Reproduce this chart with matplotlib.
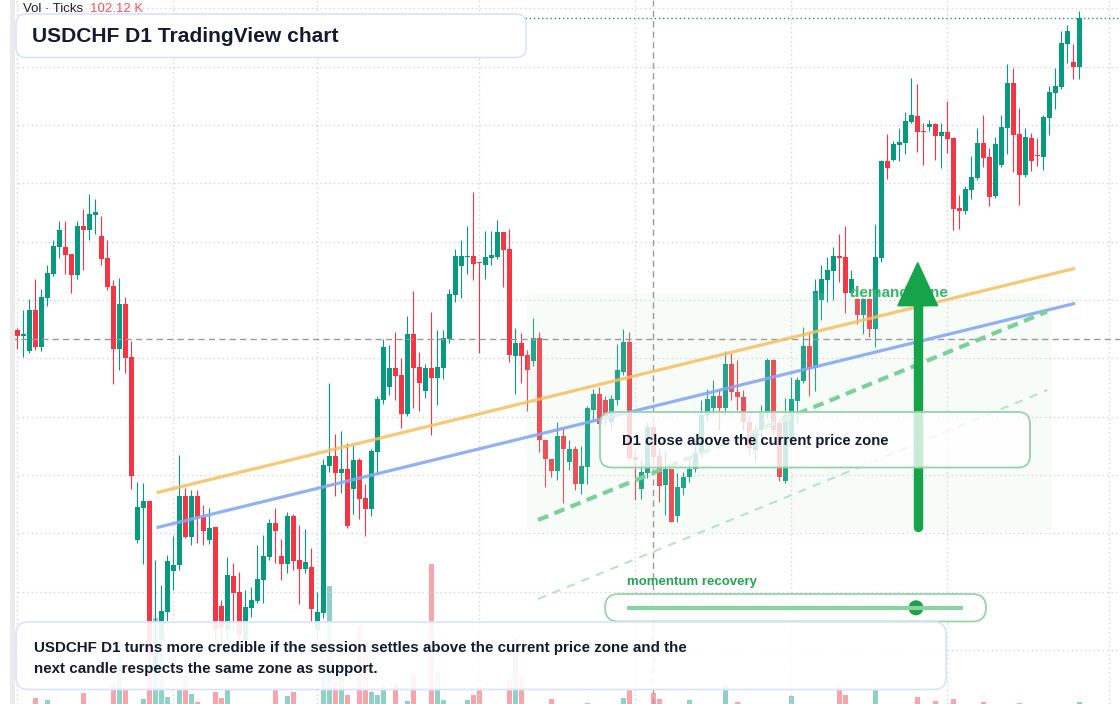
import numpy as np
import matplotlib.pyplot as plt
from matplotlib.patches import FancyBboxPatch, Polygon, Circle, Rectangle

plt.rcParams['font.family'] = ['Liberation Sans', 'DejaVu Sans']

# OHLC in points (1 point = 0.00001)
open_pts = [88020, 87984, 87894, 88140, 87918, 88212, 88356, 88518, 88518, 88476,
            88350, 88644, 88620, 88710, 88584, 88452, 88284, 87906, 88176, 87858,
            86760, 86952, 86994, 85980, 86160, 86328, 86574, 86610, 87024, 86778,
            87024, 86898, 86760, 86838, 86364, 86220, 86544, 86448, 86160, 86352,
            86394, 86520, 86658, 86862, 86664, 86616, 86904, 86640, 86586, 86598,
            86220, 86322, 87204, 87264, 87162, 87186, 87066, 87240, 87012, 86946,
            87288, 87600, 87678, 87792, 87750, 87516, 87996, 87798, 87654, 87792,
            87732, 87792, 87966, 88230, 88404, 88458, 88464, 88428, 88410, 88452,
            88458, 88608, 88506, 87864, 87942, 87870, 87834, 87972, 87360, 87246,
            87174, 87384, 87228, 87306, 87096, 87198, 87540, 87636, 87600, 87468,
            87600, 87768, 87948, 87258, 87066, 87162, 87438, 87264, 87090, 87186,
            86904, 87072, 87138, 87186, 87282, 87510, 87552, 87624, 87552, 87816,
            87648, 87618, 87468, 87300, 87420, 87522, 87840, 87462, 87114, 87360,
            87594, 87714, 87924, 87792, 88200, 88320, 88374, 88464, 88458, 88242,
            88206, 88110, 88206, 88026, 88452, 89034, 89040, 89130, 89142, 89268,
            89304, 89214, 89238, 89256, 89184, 89208, 89172, 88752, 88734, 88860,
            88932, 89142, 89058, 88824, 89010, 89232, 89502, 89196, 88950, 89172,
            89070, 89058, 89292, 89442, 89478, 89736, 89628, 89598]
high_pts = [88032, 88140, 88206, 88326, 88266, 88410, 88560, 88674, 88674, 88476,
            88674, 88746, 88836, 88806, 88704, 88560, 88320, 88332, 88218, 87954,
            87108, 87102, 86994, 86640, 86490, 86670, 86784, 87270, 87072, 87060,
            87060, 86970, 86952, 86838, 86400, 86658, 86622, 86568, 86460, 86478,
            86730, 86790, 86886, 86952, 86766, 86928, 86916, 86850, 86826, 86712,
            86448, 87246, 87702, 87396, 87414, 87342, 87330, 87252, 87096, 87306,
            87624, 87966, 87930, 88008, 87852, 88104, 88254, 87888, 87816, 88128,
            88020, 88020, 88266, 88506, 88560, 88644, 88848, 88428, 88614, 88614,
            88680, 88608, 88626, 88032, 88002, 87900, 88092, 88008, 87360, 87246,
            87468, 87432, 87360, 87324, 87324, 87564, 87666, 87678, 87624, 87630,
            87936, 88026, 88008, 87300, 87240, 87468, 87480, 87312, 87300, 87186,
            87162, 87168, 87240, 87360, 87600, 87666, 87720, 87666, 87894, 87882,
            87840, 87660, 87510, 87450, 87570, 87852, 87846, 87480, 87612, 87738,
            87738, 88038, 88008, 88326, 88410, 88458, 88518, 88596, 88644, 88380,
            88212, 88212, 88212, 88656, 89040, 89196, 89154, 89232, 89328, 89532,
            89496, 89262, 89280, 89262, 89262, 89394, 89178, 88830, 88884, 89064,
            89232, 89310, 89112, 89178, 89310, 89616, 89592, 89352, 89232, 89202,
            89172, 89310, 89484, 89592, 89814, 89850, 89736, 89934]
low_pts = [87906, 87858, 87882, 87900, 87894, 88164, 88344, 88452, 88356, 88242,
           88326, 88380, 88560, 88596, 88410, 88260, 87696, 87780, 87762, 87066,
           86742, 86616, 85980, 85920, 86112, 86250, 86460, 86580, 86772, 86730,
           86742, 86730, 86736, 86160, 86130, 86160, 86220, 86100, 86112, 86298,
           86382, 86382, 86640, 86622, 86520, 86562, 86580, 86376, 86562, 86268,
           86160, 86292, 87168, 87024, 87042, 86832, 86916, 86886, 86784, 86904,
           87156, 87576, 87630, 87600, 87432, 87504, 87552, 87534, 87612, 87390,
           87570, 87726, 87942, 88188, 88212, 88356, 88320, 87882, 88326, 88410,
           88446, 88278, 87828, 87636, 87702, 87534, 87804, 87288, 87078, 87138,
           87120, 86982, 87180, 87060, 87036, 87096, 87480, 87420, 87450, 87432,
           87570, 87750, 87240, 87000, 87006, 87132, 87228, 86988, 86910, 86868,
           86868, 87030, 87108, 87168, 87258, 87480, 87510, 87420, 87510, 87600,
           87540, 87420, 87270, 87240, 87360, 87492, 87390, 87114, 87102, 87330,
           87462, 87702, 87624, 87654, 88080, 88188, 88200, 88308, 88122, 88224,
           88056, 87996, 87978, 87918, 88428, 88926, 89034, 89034, 89076, 89262,
           89088, 89010, 89214, 89040, 88992, 89082, 88620, 88626, 88716, 88806,
           88920, 88998, 88764, 88812, 88998, 89076, 88968, 88770, 88938, 88974,
           89004, 88980, 89190, 89346, 89466, 89622, 89526, 89526]
close_pts = [87984, 87996, 88140, 87918, 88218, 88362, 88524, 88620, 88470, 88350,
             88644, 88620, 88716, 88728, 88446, 88278, 87906, 88176, 87852, 87144,
             86958, 86994, 86070, 86160, 86334, 86634, 86610, 87024, 86778, 87024,
             86898, 86814, 86832, 86220, 86232, 86550, 86442, 86190, 86358, 86400,
             86526, 86664, 86862, 86814, 86616, 86904, 86634, 86586, 86628, 86346,
             86328, 87210, 87264, 87162, 87186, 86844, 87240, 87006, 86946, 87294,
             87606, 87918, 87792, 87744, 87516, 87996, 87792, 87702, 87792, 87732,
             87798, 87972, 88236, 88464, 88464, 88464, 88416, 88422, 88458, 88470,
             88608, 88500, 87870, 87942, 87864, 87780, 87972, 87360, 87246, 87174,
             87384, 87306, 87306, 87096, 87204, 87552, 87636, 87456, 87504, 87606,
             87780, 87948, 87252, 87240, 87168, 87438, 87258, 87084, 87186, 86868,
             87078, 87138, 87186, 87282, 87510, 87606, 87624, 87552, 87816, 87648,
             87618, 87468, 87312, 87420, 87522, 87840, 87420, 87138, 87510, 87606,
             87720, 87924, 87792, 88254, 88326, 88380, 88464, 88452, 88242, 88326,
             88110, 88206, 88026, 88458, 89034, 88992, 89136, 89148, 89274, 89310,
             89208, 89208, 89256, 89184, 89208, 89166, 88746, 88734, 88866, 88938,
             89142, 89052, 88818, 89136, 89238, 89502, 89190, 88950, 89178, 89034,
             89064, 89298, 89448, 89484, 89742, 89814, 89598, 89892]
# tick volume, thousands
volume_k = [20, 20, 20, 300, 20, 200, 20, 20, 20, 20,
            20, 550, 20, 20, 20, 20, 1000, 2350, 700, 20,
            20, 250, 2000, 4300, 4000, 350, 20, 700, 1400, 500,
            100, 20, 20, 600, 300, 700, 20, 20, 20, 20,
            20, 20, 20, 700, 20, 400, 600, 20, 20, 20,
            20, 2150, 5900, 1100, 1450, 450, 20, 3900, 3200, 600,
            450, 900, 20, 1000, 20, 150, 1500, 20, 20, 7000,
            1550, 200, 20, 20, 20, 200, 450, 950, 20, 20,
            20, 20, 1200, 3250, 1350, 20, 20, 20, 20, 250,
            20, 20, 20, 20, 20, 50, 20, 20, 20, 20,
            20, 300, 700, 20, 20, 20, 550, 250, 20, 20,
            20, 20, 200, 20, 20, 20, 20, 20, 950, 20,
            100, 20, 20, 20, 20, 20, 20, 20, 20, 400,
            20, 20, 20, 20, 20, 20, 20, 850, 450, 20,
            20, 20, 20, 750, 20, 20, 20, 20, 20, 20,
            350, 20, 20, 150, 20, 20, 250, 20, 20, 20,
            20, 100, 20, 20, 20, 20, 20, 50, 20, 20,
            20, 20, 20, 20, 20, 20, 20, 102.12]

grid_prices = [0.8995, 0.8960, 0.8925, 0.8890, 0.8855, 0.8820, 0.8785, 0.8750,
               0.8715, 0.8680, 0.8645, 0.8610]
grid_bars = [0, 26, 50, 77, 103, 129, 155, 182]

# drawings (bar index, price)
orange_line = ([23.2, 176.3], [0.87044, 0.88390])
blue_line = ([23.2, 176.3], [0.86834, 0.88180])
green_dash = ([86.8, 171.6], [0.86880, 0.88130])
green_dash_light = ([86.8, 171.7], [0.86406, 0.87660])
zone_bars = (84.95, 172.45)
zone_prices = (0.86808, 0.88242)
arrow_bar = 150.07
arrow_prices = (0.86838, 0.88166, 0.88424)   # tail, head base, tip
cross_bar = 106
cross_price = 0.87969
meter_value = 0.86

title = "USDCHF D1 TradingView chart"
note = ("USDCHF D1 turns more credible if the session settles above the current price zone and the\n"
        "next candle respects the same zone as support.")
signal = "D1 close above the current price zone"
zone_label = "demand zone"
meter_label = "momentum recovery"

o = np.array(open_pts) / 1e5
h = np.array(high_pts) / 1e5
l = np.array(low_pts) / 1e5
c = np.array(close_pts) / 1e5
v = np.array(volume_k)
idx = np.arange(len(o))
up = c >= o

GREEN = "#089981"
RED = "#f23645"
cols = np.where(up, GREEN, RED)

W, H = 1120, 704
fig = plt.figure(figsize=(W / 100, H / 100), dpi=100)
xlim = (-17.3 / 6, (W - 17.3) / 6)

# volume pane underneath
axv = fig.add_axes([0, 0, 1, 1], zorder=0)
axv.set_xlim(*xlim)
axv.set_ylim(0, 35200)
axv.axis("off")
axv.bar(idx, v, width=0.83, color=cols, alpha=0.45, linewidth=0)

ax = fig.add_axes([0, 0, 1, 1], zorder=1)
ax.patch.set_alpha(0)
ax.set_xlim(*xlim)
ax.set_ylim(0.85776, 0.9)
ax.axis("off")

# grid
for gp in grid_prices:
    ax.axhline(gp, color="#d4d4d4", lw=1, ls=(0, (1, 2.2)), zorder=0)
for gb in grid_bars:
    ax.axvline(gb, color="#d4d4d4", lw=1, ls=(0, (1, 2.2)), zorder=0)

# candles
ax.vlines(idx, l, h, colors=cols, lw=0.8, zorder=2)
body_lo = np.minimum(o, c)
body_h = np.maximum(np.abs(c - o), 0.00006)
ax.bar(idx, body_h, bottom=body_lo, width=0.83, color=cols, linewidth=0, zorder=3)

# demand zone overlay
zone = FancyBboxPatch((zone_bars[0], zone_prices[0]), zone_bars[1] - zone_bars[0],
                      zone_prices[1] - zone_prices[0],
                      boxstyle="round,pad=0,rounding_size=1.5", mutation_aspect=0.00025,
                      facecolor="#c9f0d5", alpha=0.14, edgecolor="none", zorder=4)
ax.add_patch(zone)

# crosshair and last price
ax.axhline(cross_price, color="#9a9a9a", lw=1, ls=(0, (4.5, 3)), zorder=5)
ax.axvline(cross_bar, color="#9a9a9a", lw=1, ls=(0, (4.5, 3)), zorder=5)
ax.axhline(c[-1], color=GREEN, lw=1, ls=(0, (1, 2)), zorder=5)

# trend lines
ax.plot(*orange_line, color="#f6bf5e", lw=2.3, alpha=0.85, solid_capstyle="butt", zorder=6)
ax.plot(*blue_line, color="#86a8f3", lw=2.3, alpha=0.9, solid_capstyle="butt", zorder=6)
ax.plot(*green_dash, color="#7dcf98", lw=3, ls=(0, (2.6, 1.6)), zorder=6)
ax.plot(*green_dash_light, color="#b6e4c4", lw=1.5, ls=(0, (4, 3.5)), zorder=6)

ax.text(138.8, 0.88244, zone_label, color="#38b767", fontsize=11, fontweight="bold",
        va="center", ha="left", zorder=7)

# arrow
ax.plot([arrow_bar, arrow_bar], arrow_prices[:2], color="#16a34a", lw=6.8,
        solid_capstyle="round", zorder=8)
ax.add_patch(Polygon([(arrow_bar - 3.3, arrow_prices[1]), (arrow_bar + 3.3, arrow_prices[1]),
                      (arrow_bar, arrow_prices[2])], closed=True, color="#16a34a", zorder=8))

# overlay in pixel space
ov = fig.add_axes([0, 0, 1, 1], zorder=5)
ov.set_xlim(0, W)
ov.set_ylim(H, 0)
ov.axis("off")
ov.patch.set_alpha(0)

ov.add_patch(Rectangle((0, 0), 10, H, facecolor="white", edgecolor="none"))
ov.add_patch(Rectangle((10, 0), 4.5, H, facecolor="#ebebeb", edgecolor="none"))

def rbox(x0, y0, x1, y1, r, ec, alpha=1.0):
    p = FancyBboxPatch((x0, y0), x1 - x0, y1 - y0, boxstyle=f"round,pad=0,rounding_size={r}",
                       facecolor=(1, 1, 1, alpha), edgecolor=ec, lw=1.3)
    ov.add_patch(p)

rbox(600, 412, 1030, 467.5, 12, "#93d5a7", alpha=0.78)
ov.text(622, 441, signal, fontsize=10.7, fontweight="bold", color="#131c2e", va="center")

ov.text(627, 582.5, meter_label, fontsize=9.5, fontweight="bold", color="#22a653", va="center")
rbox(605, 594, 986, 621.5, 13.7, "#93d5a7", alpha=0.9)
ov.plot([627, 963], [607.8, 607.8], color="#8ad29f", lw=3, solid_capstyle="butt")
ov.add_patch(Circle((627 + meter_value * (963 - 627), 607.8), 6.8, color="#20a04b"))

rbox(16, 622, 946, 689.5, 12, "#dbe6fa", alpha=0.9)
ov.text(34, 658.5, note, fontsize=10.9, fontweight="bold", color="#131c2e", va="center",
        linespacing=1.55)

rbox(16, 14, 526, 57.5, 10, "#dbe6fa", alpha=1.0)
ov.text(32, 36, title, fontsize=15.1, fontweight="bold", color="#131c2e", va="center")

ov.text(23, 9, "Vol · Ticks", fontsize=9.5, color="#222222", va="center")
ov.text(90, 9, f"{v[-1]:.2f} K", fontsize=9.5, color="#f7525f", va="center")

fig.savefig("out.png", dpi=100)
